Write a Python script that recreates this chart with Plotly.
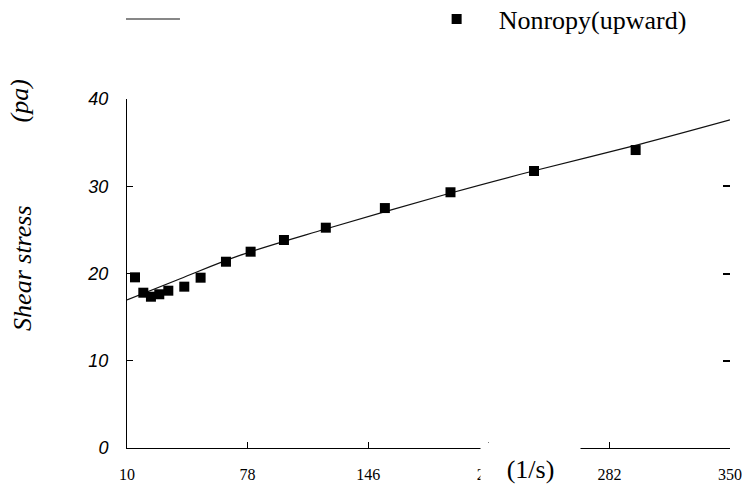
import plotly.graph_objects as go

# Measured data (shear rate 1/s, shear stress Pa)
shear_rate = [14.5, 19.2, 23.5, 28.2, 33.3, 42.3, 51.5, 65.8, 79.7, 98.5, 122.1, 155.4, 192.4, 239.5, 296.8]
shear_stress = [19.56, 17.80, 17.34, 17.62, 18.03, 18.49, 19.52, 21.35, 22.50, 23.84, 25.25, 27.5, 29.31, 31.75, 34.15]

# Fitted curve
fit_rate = [10, 40, 74, 122, 192, 239, 299, 350]
fit_stress = [16.96, 19.4, 22.1, 25.1, 29.2, 31.75, 34.8, 37.6]

x_ticks = [10, 78, 146, 214, 282, 350]
y_ticks = [0, 10, 20, 30, 40]

serif = "Liberation Serif, Times New Roman, serif"
sans = "Liberation Sans, Arial, sans-serif"

fig = go.Figure()
fig.add_trace(go.Scatter(
    x=fit_rate, y=fit_stress, mode="lines", name=" ",
    line=dict(color="#111111", width=1.2, shape="spline"),
    legend="legend",
))
fig.add_trace(go.Scatter(
    x=shear_rate, y=shear_stress, mode="markers", name="Nonropy(upward)",
    marker=dict(symbol="square", size=10, color="black"),
    legend="legend2",
))
# helper trace for right-hand tick marks
fig.add_trace(go.Scatter(x=[None], y=[None], yaxis="y2", showlegend=False, hoverinfo="skip"))

fig.update_layout(
    width=742, height=486,
    margin=dict(l=127, r=12, t=99, b=38, autoexpand=False),
    paper_bgcolor="white", plot_bgcolor="white",
    font=dict(family=serif, color="black"),
    xaxis=dict(
        range=[10, 350], tickvals=x_ticks, ticktext=[str(v) for v in x_ticks],
        showline=True, linecolor="black", linewidth=1,
        ticks="inside", ticklen=6, tickcolor="black", tickwidth=1,
        showgrid=False, zeroline=False,
        tickfont=dict(family=serif, size=16, color="black"),
        ticklabelstandoff=12,
    ),
    yaxis=dict(
        range=[0, 40], tickvals=y_ticks,
        showline=True, linecolor="black", linewidth=1,
        ticks="inside", ticklen=6, tickcolor="black", tickwidth=1,
        showgrid=False, zeroline=False,
        tickfont=dict(family=sans, size=18, color="black", style="italic"),
        ticklabelstandoff=14,
    ),
    yaxis2=dict(
        range=[0, 40], overlaying="y", side="right", tickvals=[10, 20, 30, 40],
        showline=False, ticks="inside", ticklen=7, tickcolor="black", tickwidth=1.5,
        showticklabels=False, showgrid=False, zeroline=False,
    ),
    legend=dict(
        orientation="h", x=-0.01, y=1.229, xanchor="left", yanchor="middle",
        font=dict(family=serif, size=26, color="black"), bgcolor="rgba(0,0,0,0)",
        itemwidth=54,
    ),
    legend2=dict(
        orientation="h", x=0.477, y=1.229, xanchor="left", yanchor="middle",
        font=dict(family=serif, size=26, color="black"), bgcolor="rgba(0,0,0,0)",
        itemwidth=74,
    ),
    annotations=[
        dict(text="(1/s)", xref="paper", yref="paper", x=0.669, y=-0.06,
             xanchor="center", yanchor="middle", showarrow=False,
             font=dict(family=serif, size=26, color="black"),
             bgcolor="white", width=97, height=50),
        dict(text="<i>Shear stress</i>", xref="paper", yref="paper", x=-0.1725, y=0.516,
             xanchor="center", yanchor="middle", showarrow=False, textangle=-90,
             font=dict(family=serif, size=26, color="black")),
        dict(text="<i>(pa)</i>", xref="paper", yref="paper", x=-0.178, y=0.995,
             xanchor="center", yanchor="middle", showarrow=False, textangle=-90,
             font=dict(family=serif, size=26, color="black")),
    ],
    showlegend=True,
)

fig.write_html("out.html", config={"displayModeBar": False},
               post_script="document.body.style.margin='0';")
